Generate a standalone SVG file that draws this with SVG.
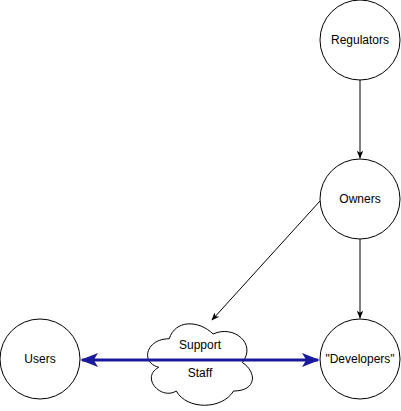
<svg xmlns="http://www.w3.org/2000/svg" width="401" height="411" viewBox="0 0 401 411">
<style>
.n{fill:#fff;stroke:#000;stroke-width:1}
.t{font-family:"Liberation Sans",Arial,sans-serif;font-size:12px;fill:#000;text-anchor:middle}
.e{fill:none;stroke:#000;stroke-width:1}
.b{fill:none;stroke:#1a1a9c;stroke-width:3}
</style>
<defs>
<marker id="a" viewBox="0 0 10 10" refX="9" refY="5" markerWidth="8" markerHeight="8" markerUnits="userSpaceOnUse" orient="auto"><path d="M0,1 L10,5 L0,9 L2.5,5 Z" fill="#000"/></marker>
<marker id="ab" viewBox="0 0 10 10" refX="9" refY="5" markerWidth="18" markerHeight="18" markerUnits="userSpaceOnUse" orient="auto-start-reverse"><path d="M0,1 L10,5 L0,9 L2.5,5 Z" fill="#1a1a9c"/></marker>
</defs>
<g id="connectors">
<path class="e" d="M360,80 L360,158" marker-end="url(#a)"/>
<path class="e" d="M360,239 L360,318" marker-end="url(#a)"/>
<path class="e" d="M320,201 L212,320" marker-end="url(#a)"/>
</g>
<g id="regulators"><circle class="n" cx="360" cy="40" r="40"/><text class="t" x="360" y="44">Regulators</text></g>
<g id="owners"><circle class="n" cx="360" cy="199" r="40"/><text class="t" x="360" y="203">Owners</text></g>
<g id="developers"><circle class="n" cx="360" cy="359" r="40"/><text class="t" x="360" y="363">"Developers"</text></g>
<g id="users"><circle class="n" cx="40" cy="359" r="40"/><text class="t" x="40" y="363">Users</text></g>
<g id="support"><path class="n" d="M169.25,338.75 C145.85,338.75 140,362.5 158.72,367.25 C140,377.7 161.06,400.5 176.27,391 C186.8,410 221.9,410 233.6,391 C257,391 257,372 242.375,362.5 C257,343.5 233.6,324.5 213.125,334 C198.5,319.75 175.1,319.75 169.25,338.75 Z"/><text class="t" x="200" y="349">Support</text><text class="t" x="200" y="377">Staff</text></g>
<g id="link"><path class="b" d="M82,360 L318,360" marker-start="url(#ab)" marker-end="url(#ab)"/></g>
</svg>
